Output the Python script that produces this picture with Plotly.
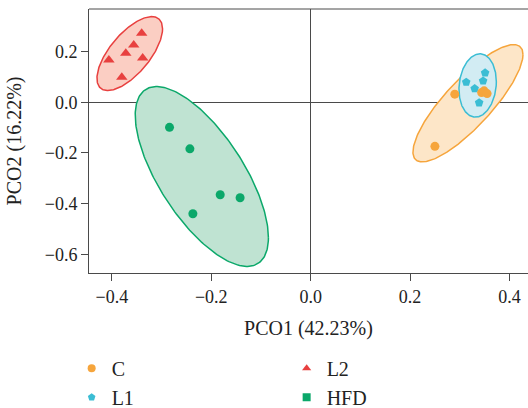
import numpy as np
import plotly.graph_objects as go

# Group order, colours and marker symbols
groups = ["C", "L2", "L1", "HFD"]
line_colors = {"C": "#F6A53C", "L2": "#E8403F", "L1": "#3BBDD4", "HFD": "#0BA86A"}
fill_colors = {"C": "#FDE6C8", "L2": "#FBCEC3", "L1": "#D2ECF3", "HFD": "#BFE3D2"}
plot_symbols = {"C": "circle", "L2": "triangle-up", "L1": "pentagon", "HFD": "circle"}
legend_symbols = {"C": "circle", "L2": "triangle-up", "L1": "pentagon", "HFD": "square"}

# PCoA scores (PCO1, PCO2) per sample
c_x = [0.290, 0.250, 0.344, 0.349, 0.355]
c_y = [0.032, -0.174, 0.038, 0.045, 0.034]
l1_x = [0.351, 0.347, 0.313, 0.330, 0.339]
l1_y = [0.116, 0.084, 0.079, 0.054, -0.002]
l2_x = [-0.340, -0.356, -0.372, -0.406, -0.338, -0.380]
l2_y = [0.272, 0.226, 0.193, 0.167, 0.175, 0.099]
hfd_x = [-0.284, -0.243, -0.182, -0.142, -0.237]
hfd_y = [-0.099, -0.184, -0.365, -0.377, -0.440]

scores = {"C": (c_x, c_y), "L1": (l1_x, l1_y), "L2": (l2_x, l2_y), "HFD": (hfd_x, hfd_y)}

# Group ellipses: centre, half-extent along each axis, correlation
ell_cx = {"C": 0.3165, "L1": 0.336, "L2": -0.364, "HFD": -0.219}
ell_cy = {"C": -0.004, "L1": 0.066, "L2": 0.192, "HFD": -0.293}
ell_sx = {"C": 0.1107, "L1": 0.0376, "L2": 0.066, "HFD": 0.134}
ell_sy = {"C": 0.2315, "L1": 0.125, "L2": 0.146, "HFD": 0.355}
ell_r = {"C": 0.83, "L1": 0.12, "L2": 0.67, "HFD": -0.68}

x_ticks = [-0.4, -0.2, 0.0, 0.2, 0.4]
y_ticks = [0.2, 0.0, -0.2, -0.4, -0.6]

FONT = "Liberation Serif"
FS_TICK = 18
FS_TEXT = 20

fig = go.Figure()

t = np.linspace(0, 2 * np.pi, 241)
for g in ["C", "L1", "L2", "HFD"]:
    r = ell_r[g]
    ex = ell_cx[g] + ell_sx[g] * np.cos(t)
    ey = ell_cy[g] + ell_sy[g] * (r * np.cos(t) + np.sqrt(1 - r * r) * np.sin(t))
    fig.add_trace(go.Scatter(
        x=ex, y=ey, mode="lines", fill="toself",
        fillcolor=fill_colors[g], line=dict(color=line_colors[g], width=1.5),
        showlegend=False, hoverinfo="skip",
    ))

for g in ["L2", "HFD", "L1", "C"]:
    xs, ys = scores[g]
    size = 10 if g == "L2" else 9
    fig.add_trace(go.Scatter(
        x=xs, y=ys, mode="markers", name=g, showlegend=False,
        marker=dict(symbol=plot_symbols[g], color=line_colors[g], size=size, line=dict(width=0)),
    ))

# Legend entries
for g in groups:
    fig.add_trace(go.Scatter(
        x=[None], y=[None], mode="markers", name=g,
        marker=dict(symbol=legend_symbols[g], color=line_colors[g], size=8, line=dict(width=0)),
    ))

axis_common = dict(
    showline=True, linecolor="#4a4a4a", linewidth=1,
    ticks="outside", ticklen=7, tickcolor="#4a4a4a",
    showgrid=False, zeroline=True, zerolinecolor="#4a4a4a", zerolinewidth=1,
    tickfont=dict(family=FONT, size=FS_TICK, color="#222"),
)

fig.update_layout(
    width=528, height=408,
    margin=dict(l=89, r=0, t=9, b=135),
    paper_bgcolor="white", plot_bgcolor="white",
    font=dict(family=FONT, size=FS_TEXT, color="#222"),
    xaxis=dict(
        range=[-0.446, 0.4373], tickvals=x_ticks, tickformat=".1f",
        title=dict(text="PCO1 (42.23%)", font=dict(family=FONT, size=FS_TEXT), standoff=15),
        **axis_common,
    ),
    yaxis=dict(
        range=[-0.674, 0.368], tickvals=y_ticks, tickformat=".1f",
        title=dict(text="PCO2 (16.22%)", font=dict(family=FONT, size=FS_TEXT), standoff=17),
        **axis_common,
    ),
    legend=dict(
        orientation="h", xref="container", yref="container",
        x=0.1357, y=0.145, xanchor="left", yanchor="top",
        entrywidth=170, entrywidthmode="pixels",
        font=dict(family=FONT, size=FS_TEXT, color="#222"),
        itemsizing="trace", traceorder="normal",
    ),
    shapes=[dict(type="line", xref="paper", yref="paper", x0=0, x1=1, y0=1, y1=1,
                 line=dict(color="#4a4a4a", width=1))],
)

fig.write_html("out.html")
